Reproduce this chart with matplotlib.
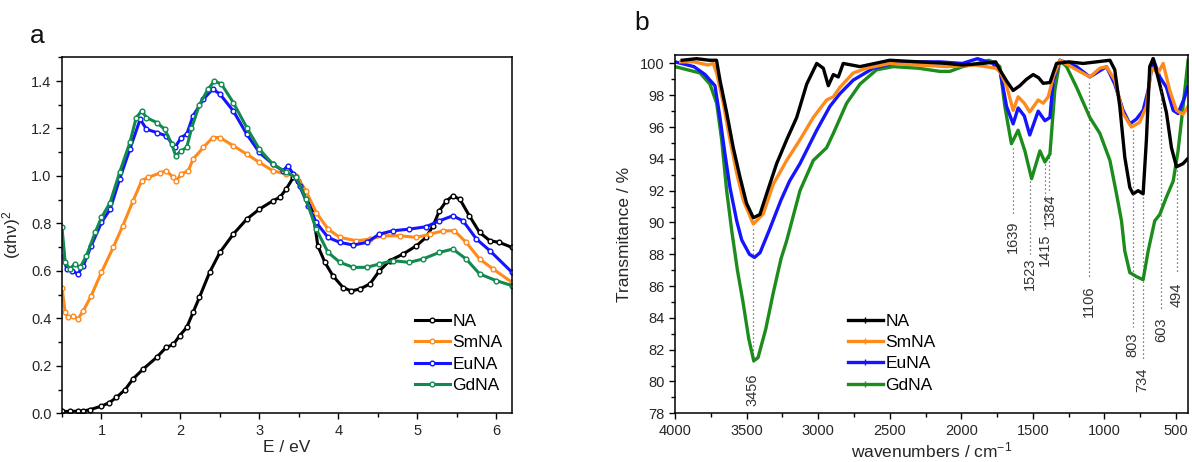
import matplotlib
matplotlib.use("Agg")
import matplotlib.pyplot as plt
from matplotlib.ticker import MultipleLocator
from matplotlib.lines import Line2D

plt.rcParams['font.family'] = ['Liberation Sans', 'DejaVu Sans']
plt.rcParams['mathtext.fontset'] = 'custom'
plt.rcParams['mathtext.rm'] = 'Liberation Sans'
plt.rcParams['mathtext.it'] = 'Liberation Sans:italic'

# ---- panel a: (alpha h nu)^2 vs E ----
e_na = [0.5, 0.6, 0.7, 0.77, 0.85, 1.0, 1.1, 1.19, 1.3, 1.40, 1.53, 1.70, 1.82, 1.91, 1.99,
        2.08, 2.16, 2.24, 2.37, 2.50, 2.67, 2.84, 3.00, 3.17, 3.26, 3.34, 3.43, 3.49, 3.59,
        3.68, 3.74, 3.83, 3.93, 4.06, 4.16, 4.27, 4.40, 4.52, 4.65, 4.82, 4.99, 5.11, 5.20,
        5.28, 5.37, 5.45, 5.54, 5.66, 5.79, 5.92, 6.04, 6.20]
a_na = [0.008, 0.008, 0.009, 0.01, 0.015, 0.03, 0.045, 0.067, 0.10, 0.145, 0.187, 0.236,
        0.278, 0.29, 0.327, 0.362, 0.425, 0.488, 0.594, 0.678, 0.755, 0.818, 0.860, 0.895,
        0.91, 0.945, 0.994, 0.98, 0.917, 0.846, 0.706, 0.636, 0.58, 0.53, 0.516, 0.523,
        0.545, 0.60, 0.643, 0.671, 0.706, 0.741, 0.79, 0.853, 0.895, 0.916, 0.902, 0.832,
        0.762, 0.727, 0.72, 0.699]

e_sm = [0.5, 0.54, 0.58, 0.64, 0.70, 0.77, 0.87, 1.0, 1.15, 1.27, 1.40, 1.51, 1.59, 1.74,
        1.82, 1.91, 1.95, 2.01, 2.10, 2.16, 2.29, 2.41, 2.50, 2.67, 2.84, 3.00, 3.17, 3.34,
        3.47, 3.59, 3.72, 3.87, 4.02, 4.23, 4.40, 4.57, 4.78, 4.99, 5.16, 5.33, 5.47, 5.62,
        5.79, 5.96, 6.20]
a_sm = [0.53, 0.425, 0.404, 0.41, 0.397, 0.432, 0.495, 0.594, 0.70, 0.79, 0.895, 0.98,
        0.994, 1.012, 1.022, 0.994, 0.98, 1.008, 1.022, 1.071, 1.12, 1.162, 1.162, 1.127,
        1.092, 1.057, 1.022, 1.008, 1.0, 0.937, 0.846, 0.776, 0.741, 0.727, 0.734, 0.748,
        0.748, 0.741, 0.755, 0.769, 0.769, 0.72, 0.65, 0.608, 0.552]

e_eu = [0.5, 0.56, 0.63, 0.70, 0.77, 0.87, 1.0, 1.11, 1.23, 1.36, 1.49, 1.57, 1.70, 1.82,
        1.93, 2.01, 2.08, 2.16, 2.29, 2.41, 2.50, 2.67, 2.84, 3.0, 3.17, 3.30, 3.36, 3.43,
        3.51, 3.62, 3.72, 3.87, 4.02, 4.19, 4.36, 4.52, 4.69, 4.90, 5.11, 5.28, 5.45, 5.58,
        5.75, 5.92, 6.2]
a_eu = [0.68, 0.608, 0.60, 0.587, 0.622, 0.706, 0.804, 0.86, 0.987, 1.113, 1.239, 1.197,
        1.183, 1.169, 1.12, 1.162, 1.176, 1.253, 1.323, 1.366, 1.345, 1.274, 1.176, 1.099,
        1.05, 1.022, 1.043, 1.008, 0.958, 0.874, 0.804, 0.741, 0.72, 0.709, 0.72, 0.755,
        0.769, 0.776, 0.786, 0.811, 0.832, 0.811, 0.734, 0.685, 0.594]

e_gd = [0.5, 0.54, 0.60, 0.66, 0.73, 0.81, 0.92, 1.0, 1.11, 1.23, 1.36, 1.44, 1.51, 1.57,
        1.70, 1.80, 1.89, 1.94, 2.01, 2.08, 2.14, 2.24, 2.35, 2.43, 2.52, 2.67, 2.84, 3.0,
        3.17, 3.34, 3.47, 3.59, 3.72, 3.87, 4.02, 4.19, 4.36, 4.52, 4.69, 4.90, 5.07, 5.28,
        5.45, 5.62, 5.79, 6.0, 6.2]
a_gd = [0.783, 0.636, 0.608, 0.629, 0.615, 0.664, 0.762, 0.825, 0.888, 1.015, 1.141, 1.246,
        1.274, 1.246, 1.225, 1.197, 1.134, 1.085, 1.106, 1.12, 1.20, 1.30, 1.366, 1.40,
        1.387, 1.309, 1.204, 1.113, 1.05, 1.015, 0.994, 0.903, 0.776, 0.678, 0.636, 0.615,
        0.615, 0.629, 0.643, 0.636, 0.65, 0.678, 0.692, 0.65, 0.587, 0.559, 0.538]

# ---- panel b: FTIR transmittance ----
w_na = [3950, 3850, 3760, 3710, 3686, 3639, 3593, 3546, 3500, 3453, 3407, 3360, 3290, 3220,
        3150, 3080, 3010, 2964, 2929, 2894, 2859, 2825, 2708, 2500, 2300, 2100, 1990, 1850,
        1760, 1731, 1684, 1638, 1591, 1545, 1498, 1460, 1428, 1381, 1335, 1250, 1149, 1055,
        962, 928, 893, 858, 823, 800, 765, 730, 707, 684, 660, 614, 567, 532, 497, 451, 420]
t_na = [100.2, 100.3, 100.2, 100.2, 98.95, 96.9, 94.7, 92.85, 91.2, 90.3, 90.5, 91.8, 93.7,
        95.2, 96.6, 98.7, 100.0, 99.7, 98.6, 99.3, 99.15, 100.0, 99.8, 100.2, 100.1, 100.0,
        99.9, 100.0, 100.1, 99.6, 98.9, 98.3, 98.6, 99.0, 99.3, 99.1, 98.75, 98.8, 100.0,
        100.1, 100.0, 100.1, 100.2, 99.6, 97.3, 94.1, 92.2, 91.8, 92.0, 91.8, 95.2, 99.8,
        100.3, 98.7, 96.9, 94.7, 93.5, 93.7, 94.0]

w_sm = [3960, 3868, 3770, 3733, 3709, 3663, 3616, 3569, 3523, 3453, 3383, 3314, 3220, 3127,
        3034, 2941, 2894, 2848, 2755, 2662, 2500, 2300, 2100, 1900, 1760, 1731, 1684, 1638,
        1603, 1560, 1522, 1463, 1428, 1393, 1358, 1312, 1195, 1102, 1032, 986, 928, 870,
        812, 754, 707, 672, 625, 590, 544, 497, 451, 416]
t_sm = [100.1, 100.1, 99.9, 100.0, 99.4, 97.5, 95.2, 93.1, 91.4, 89.9, 90.55, 92.4, 93.9,
        95.2, 96.6, 97.7, 97.9, 98.5, 99.4, 99.7, 100.0, 99.9, 99.8, 99.9, 99.7, 99.5, 98.6,
        97.05, 97.9, 97.5, 96.95, 97.7, 97.5, 97.9, 99.15, 100.2, 99.6, 99.15, 99.7, 99.8,
        98.95, 96.85, 96.0, 96.3, 97.3, 99.7, 99.4, 100.0, 98.3, 97.05, 96.8, 97.3]

w_eu = [4000, 3868, 3790, 3756, 3721, 3686, 3651, 3616, 3569, 3534, 3480, 3445, 3406, 3340,
        3260, 3200, 3127, 3010, 2918, 2848, 2755, 2615, 2475, 2300, 2150, 1993, 1887, 1781,
        1729, 1684, 1638, 1603, 1560, 1522, 1463, 1416, 1381, 1358, 1312, 1195, 1102, 986,
        928, 870, 823, 777, 730, 695, 660, 614, 567, 520, 486, 439, 420]
t_eu = [100.1, 99.8, 99.3, 98.95, 98.6, 96.6, 94.3, 92.2, 90.1, 88.9, 88.0, 87.8, 88.1,
        89.55, 91.4, 92.6, 93.7, 95.8, 97.3, 98.1, 98.95, 99.7, 100.0, 100.1, 100.1, 100.0,
        100.3, 100.0, 99.5, 97.3, 96.2, 97.2, 96.7, 95.5, 97.0, 96.4, 96.6, 98.95, 100.2,
        99.8, 99.15, 99.8, 98.7, 97.05, 96.2, 96.5, 97.05, 98.3, 100.3, 99.15, 98.5, 97.05,
        96.85, 97.9, 98.5]

w_gd = [4000, 3825, 3756, 3709, 3674, 3639, 3604, 3564, 3525, 3485, 3450, 3420, 3366, 3313,
        3260, 3220, 3127, 3034, 2941, 2894, 2801, 2708, 2592, 2476, 2300, 2150, 2080, 1990,
        1887, 1808, 1760, 1731, 1696, 1650, 1603, 1556, 1509, 1451, 1416, 1381, 1347, 1312,
        1265, 1195, 1102, 1032, 962, 916, 881, 858, 823, 777, 730, 695, 649, 614, 567, 520,
        486, 451, 416]
t_gd = [99.8, 99.4, 98.7, 97.5, 95.2, 92.0, 89.5, 87.0, 85.0, 82.7, 81.3, 81.5, 83.3, 85.6,
        87.7, 88.85, 92.0, 93.9, 94.7, 95.6, 97.5, 98.7, 99.6, 99.8, 99.7, 99.5, 99.5, 99.8,
        100.0, 100.2, 100.0, 99.8, 97.3, 94.95, 95.8, 94.5, 92.75, 94.5, 93.8, 94.3, 98.3,
        100.2, 99.8, 98.5, 96.6, 95.6, 93.9, 91.8, 90.1, 88.2, 86.85, 86.6, 86.4, 88.2,
        90.1, 90.5, 91.6, 92.6, 94.5, 97.3, 100.2]

# band labels: wavenumber, top and bottom of dotted guide, top of text
bands = [3456, 1639, 1523, 1415, 1384, 1106, 803, 734, 603, 494]
guide_top = [89.6, 94.7, 92.6, 93.7, 94.1, 98.8, 95.8, 91.6, 98.5, 93.3]
guide_bot = [81.2, 90.4, 88.0, 89.4, 92.0, 86.5, 83.4, 81.3, 84.5, 86.9]
label_top = [80.5, 90.1, 87.8, 89.3, 91.85, 86.05, 83.1, 80.9, 84.0, 86.2]

names = ['NA', 'SmNA', 'EuNA', 'GdNA']
colors_a = ['#000000', '#ff8a1c', '#1414ff', '#118a50']
colors_b = ['#000000', '#ff8a1c', '#1414ff', '#1c8c1c']
text_col = '#262626'

fig = plt.figure(figsize=(11.92, 4.62), dpi=100)
ax1 = fig.add_axes([62 / 1192, 0.1054, 450 / 1192, 0.7706])
ax2 = fig.add_axes([675 / 1192, 0.1054, 512.5 / 1192, 0.7745])

series_a = [(e_na, a_na), (e_sm, a_sm), (e_eu, a_eu), (e_gd, a_gd)]
for (x, y), c, n in zip(series_a, colors_a, names):
    ax1.plot(x, y, color=c, lw=2.2, marker='o', ms=3.4, mfc='white', mec=c, mew=1.0, label=n)

ax1.set_xlim(0.5, 6.2)
ax1.set_ylim(0, 1.5)
ax1.xaxis.set_major_locator(MultipleLocator(1))
ax1.xaxis.set_minor_locator(MultipleLocator(0.5))
ax1.set_yticks([0, 0.2, 0.4, 0.6, 0.8, 1.0, 1.2, 1.4])
ax1.yaxis.set_minor_locator(MultipleLocator(0.1))
ax1.set_xlabel('E / eV', fontsize=12.5, color=text_col, labelpad=2)
ax1.set_ylabel('(αhν)$^2$', fontsize=12.5, color=text_col, labelpad=6)
ax1.legend(loc='upper left', bbox_to_anchor=(0.784, 0.279), frameon=False, fontsize=12.5,
           handlelength=2.0, handletextpad=0.15, labelspacing=0.35, borderpad=0,
           borderaxespad=0)

series_b = [(w_gd, t_gd), (w_eu, t_eu), (w_sm, t_sm), (w_na, t_na)]
for (x, y), c in zip(series_b, colors_b[::-1]):
    ax2.plot(x, y, color=c, lw=2.4)

for wn, gt, gb, lt in zip(bands, guide_top, guide_bot, label_top):
    ax2.plot([wn, wn], [gt, gb], color='#555555', lw=0.9, ls=(0, (1, 2.2)))
    ax2.text(wn, lt, str(wn), rotation=90, ha='center', va='top', fontsize=10.5,
             color='#333333')

ax2.set_xlim(4000, 420)
ax2.set_ylim(78, 100.5)
ax2.xaxis.set_major_locator(MultipleLocator(500))
ax2.xaxis.set_minor_locator(MultipleLocator(250))
ax2.set_yticks(list(range(78, 101, 2)))
ax2.yaxis.set_minor_locator(MultipleLocator(1))
ax2.set_xlabel('wavenumbers / cm$^{-1}$', fontsize=12.5, color=text_col, labelpad=2)
ax2.set_ylabel('Transmitance / %', fontsize=12.5, color=text_col, labelpad=6)
handles_b = [Line2D([], [], color=c, lw=2.4, marker='+', ms=4, mew=1) for c in colors_b]
ax2.legend(handles_b, names, loc='upper left', bbox_to_anchor=(0.3376, 0.278),
           frameon=False, fontsize=12.5, handlelength=2.0, handletextpad=0.15,
           labelspacing=0.35, borderpad=0, borderaxespad=0)

for ax in (ax1, ax2):
    ax.tick_params(which='both', direction='out', top=False, right=False,
                   labelsize=10.5, labelcolor=text_col, width=1.0)
    ax.tick_params(which='major', length=4.5, pad=3)
    ax.tick_params(which='minor', length=3)
    for s in ax.spines.values():
        s.set_linewidth(1.1)

fig.text(30 / 1192, 1 - 43 / 462, 'a', fontsize=19, color='#111111')
fig.text(634 / 1192, 1 - 30 / 462, 'b', fontsize=19, color='#111111')

fig.savefig('out.png', dpi=100)
